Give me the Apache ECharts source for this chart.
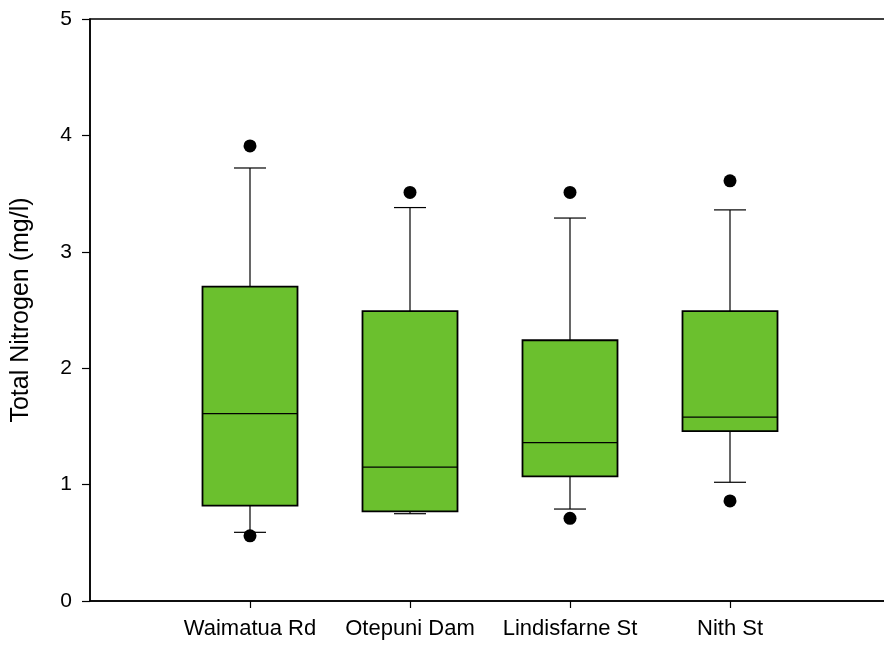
<!DOCTYPE html>
<html>
<head>
<meta charset="utf-8">
<script src="https://cdn.jsdelivr.net/npm/echarts@6/dist/echarts.min.js"></script>
<style>html,body{margin:0;padding:0;background:#fff;}#c{width:884px;height:646px;}</style>
</head>
<body>
<div id="c"></div>
<script>
var cats = ['Waimatua Rd', 'Otepuni Dam', 'Lindisfarne St', 'Nith St'];
var lowWhisker = [0.59, 0.75, 0.79, 1.02];
var q1 = [0.82, 0.77, 1.07, 1.46];
var median = [1.61, 1.15, 1.36, 1.58];
var q3 = [2.70, 2.49, 2.24, 2.49];
var highWhisker = [3.72, 3.38, 3.29, 3.36];
var outlierHigh = [3.91, 3.51, 3.51, 3.61];
var outlierLow = [0.56, null, 0.71, 0.86];
var yTicks = [0, 1, 2, 3, 4, 5];

var axisCats = [''].concat(cats).concat(['']);
var boxData = cats.map(function (c, i) {
  return [c, lowWhisker[i], q1[i], median[i], q3[i], highWhisker[i]];
});
var outData = [];
cats.forEach(function (c, i) {
  if (outlierHigh[i] != null) outData.push([c, outlierHigh[i]]);
  if (outlierLow[i] != null) outData.push([c, outlierLow[i]]);
});

var BOX_HALF = 47.5, CAP_HALF = 16;
function renderItem(params, api) {
  var x = api.value(0);
  var pLow = api.coord([x, api.value(1)]);
  var pQ1 = api.coord([x, api.value(2)]);
  var pMed = api.coord([x, api.value(3)]);
  var pQ3 = api.coord([x, api.value(4)]);
  var pHigh = api.coord([x, api.value(5)]);
  var cx = pQ1[0];
  var lineStyle = { stroke: '#000', lineWidth: 1.2 };
  return {
    type: 'group',
    children: [
      { type: 'line', shape: { x1: cx, y1: pQ3[1], x2: cx, y2: pHigh[1] }, style: lineStyle },
      { type: 'line', shape: { x1: cx - CAP_HALF, y1: pHigh[1], x2: cx + CAP_HALF, y2: pHigh[1] }, style: lineStyle },
      { type: 'line', shape: { x1: cx, y1: pQ1[1], x2: cx, y2: pLow[1] }, style: lineStyle },
      { type: 'line', shape: { x1: cx - CAP_HALF, y1: pLow[1], x2: cx + CAP_HALF, y2: pLow[1] }, style: lineStyle },
      { type: 'rect', shape: { x: cx - BOX_HALF, y: pQ3[1], width: 2 * BOX_HALF, height: pQ1[1] - pQ3[1] },
        style: { fill: '#6bc02e', stroke: '#000', lineWidth: 1.8 } },
      { type: 'line', shape: { x1: cx - BOX_HALF, y1: pMed[1], x2: cx + BOX_HALF, y2: pMed[1] }, style: lineStyle }
    ]
  };
}

var chart = echarts.init(document.getElementById('c'));
chart.setOption({
  animation: false,
  backgroundColor: '#fff',
  textStyle: { fontFamily: 'Liberation Sans, Arial, sans-serif' },
  grid: { left: 90, width: 800, top: 19, bottom: 45, containLabel: false, outerBoundsMode: 'none', show: true, borderColor: '#000', borderWidth: 1.5, backgroundColor: 'transparent' },
  xAxis: {
    type: 'category',
    data: axisCats,
    boundaryGap: false,
    axisLine: { lineStyle: { color: '#000', width: 1.5 } },
    axisTick: { length: 7, lineStyle: { color: '#000', width: 1.2 }, interval: function (i) { return i > 0 && i < axisCats.length - 1; } },
    axisLabel: { color: '#000', fontSize: 22, margin: 17, interval: 0 },
    splitLine: { show: false }
  },
  yAxis: {
    type: 'value',
    min: yTicks[0], max: yTicks[yTicks.length - 1], interval: 1,
    name: 'Total Nitrogen (mg/l)',
    nameLocation: 'middle',
    nameGap: 56,
    nameTextStyle: { color: '#000', fontSize: 25 },
    axisLine: { show: true, lineStyle: { color: '#000', width: 1.5 } },
    axisTick: { show: true, length: 8, lineStyle: { color: '#000', width: 1.2 } },
    axisLabel: { color: '#000', fontSize: 21, margin: 18 },
    splitLine: { show: false }
  },
  series: [
    { type: 'custom', renderItem: renderItem, data: boxData, encode: { x: 0, y: [1, 2, 3, 4, 5] }, z: 2 },
    { type: 'scatter', data: outData, symbol: 'circle', symbolSize: 13, itemStyle: { color: '#000', opacity: 1 }, z: 3 }
  ]
});
</script>
</body>
</html>
